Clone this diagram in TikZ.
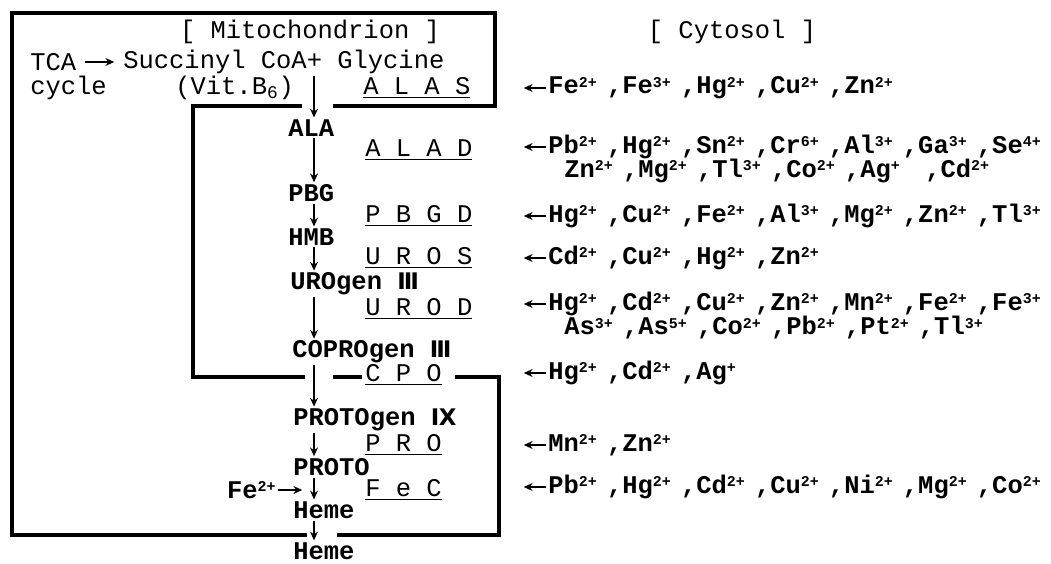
\documentclass[tikz,border=0pt]{standalone}
\usepackage{fontspec}
\setmainfont{Liberation Mono}
\newfontfamily\romfont{DejaVu Sans}
\usetikzlibrary{arrows.meta}

\newcommand{\mt}[2]{#1\raisebox{.5ex}{\fontsize{8.5}{9}\selectfont #2}}
\newcommand{\msep}{\hspace{.4em},}
\newcommand{\rom}[1]{{\romfont\bfseries\fontsize{13}{14}\selectfont #1}}

\begin{document}
\begin{tikzpicture}[x=0.02cm, y=-0.02cm,
  wall/.style={line width=2.2pt},
  flow/.style={-{Stealth[length=5pt,width=4.5pt]}, line width=0.9pt, shorten <=1pt, shorten >=1pt},
  lbl/.style={anchor=west, inner sep=0pt, font=\fontsize{14.5}{16}\selectfont},
  meta/.style={lbl, font=\fontsize{14.5}{16}\selectfont\bfseries},
  enz/.style={lbl},
  inh/.style={lbl, font=\fontsize{14.5}{16}\selectfont\bfseries}]
  \useasboundingbox (0,0) rectangle (1051,564);

  % mitochondrion walls
  \draw[wall] (302,106) -- (193,106) -- (193,377) -- (305,377);
  \draw[wall] (333,106) -- (495,106) -- (495,13) -- (12,13) -- (12,535) -- (307,535);
  \draw[wall] (337,535) -- (499,535) -- (499,377) -- (455,377);
  \draw[wall] (333,377) -- (362,377);

  % headings
  \node[lbl, anchor=center] (mito) at (310,32) {[ Mitochondrion ]};
  \node[lbl, anchor=center] (cyto) at (732,32) {[ Cytosol ]};

  % start of the pathway
  \node[lbl] (tca) at (30,62) {TCA};
  \node[lbl] (cycle) at (30,88) {cycle};
  \node[lbl] (succ) at (123,62) {Succinyl CoA+ Glycine};
  \node[lbl] (vit) at (175,88) {(Vit.B\textsubscript{6})};
  \draw[flow, shorten <=5pt, shorten >=5pt, line width=0.7pt] (tca.east) -- (succ.west);

  % metabolites
  \node[meta] (ala) at (288,128) {ALA};
  \node[meta] (pbg) at (288,193) {PBG};
  \node[meta] (hmb) at (288,237) {HMB};
  \node[meta] (urogen) at (290,284) {UROgen \rom{Ⅲ}};
  \node[meta] (copro) at (292,352) {COPROgen \rom{Ⅲ}};
  \node[meta] (protogen) at (293,420) {PROTOgen \rom{Ⅸ}};
  \node[meta] (proto) at (293,467) {PROTO};
  \node[meta] (heme) at (293,510) {Heme};
  \node[meta] (hemeout) at (293,551) {Heme};
  \node[meta, anchor=east] (fe) at (276,490) {\mt{Fe}{2+}};

  \coordinate (col) at (314,0);
  \coordinate (glyc) at (314,74);
  \coordinate (feend) at (304,0);
  \draw[flow] (glyc) -- (ala.north -| col);
  \draw[flow] (ala.south -| col) -- (pbg.north -| col);
  \draw[flow] (pbg.south -| col) -- (hmb.north -| col);
  \draw[flow] (hmb.south -| col) -- (urogen.north -| col);
  \draw[flow] (urogen.south -| col) -- (copro.north -| col);
  \draw[flow] (copro.south -| col) -- (protogen.north -| col);
  \draw[flow] (protogen.south -| col) -- (proto.north -| col);
  \draw[flow] (proto.south -| col) -- (heme.north -| col);
  \draw[flow] (heme.south -| col) -- (hemeout.north -| col);
  \draw[flow] (fe.east) -- (fe.east -| feend);

  % enzymes
  \node[enz] (alas) at (363,88) {\underline{A L A S}};
  \node[enz] (alad) at (365,150) {\underline{A L A D}};
  \node[enz] (pbgd) at (365,216) {\underline{P B G D}};
  \node[enz] (uros) at (365,258) {\underline{U R O S}};
  \node[enz] (urod) at (365,309) {\underline{U R O D}};
  \node[enz] (cpo) at (365,375) {\underline{C P O}};
  \node[enz] (pro) at (365,445) {\underline{P R O}};
  \node[enz] (fec) at (365,490) {\underline{F e C}};

  % inhibiting metal ions
  \node[inh] (iALAS) at (548,88) {\mt{Fe}{2+}\msep\mt{Fe}{3+}\msep\mt{Hg}{2+}\msep\mt{Cu}{2+}\msep\mt{Zn}{2+}};
  \node[inh] (iALAD) at (548,147) {\mt{Pb}{2+}\msep\mt{Hg}{2+}\msep\mt{Sn}{2+}\msep\mt{Cr}{6+}\msep\mt{Al}{3+}\msep\mt{Ga}{3+}\msep\mt{Se}{4+}};
  \node[inh] (iALADb) at (564,171) {\mt{Zn}{2+}\msep\mt{Mg}{2+}\msep\mt{Tl}{3+}\msep\mt{Co}{2+}\msep\mt{Ag}{+}\hspace{.6em}\msep\mt{Cd}{2+}};
  \node[inh] (iPBGD) at (548,216) {\mt{Hg}{2+}\msep\mt{Cu}{2+}\msep\mt{Fe}{2+}\msep\mt{Al}{3+}\msep\mt{Mg}{2+}\msep\mt{Zn}{2+}\msep\mt{Tl}{3+}};
  \node[inh] (iUROS) at (548,258) {\mt{Cd}{2+}\msep\mt{Cu}{2+}\msep\mt{Hg}{2+}\msep\mt{Zn}{2+}};
  \node[inh] (iUROD) at (548,304) {\mt{Hg}{2+}\msep\mt{Cd}{2+}\msep\mt{Cu}{2+}\msep\mt{Zn}{2+}\msep\mt{Mn}{2+}\msep\mt{Fe}{2+}\msep\mt{Fe}{3+}};
  \node[inh] (iURODb) at (564,328) {\mt{As}{3+}\msep\mt{As}{5+}\msep\mt{Co}{2+}\msep\mt{Pb}{2+}\msep\mt{Pt}{2+}\msep\mt{Tl}{3+}};
  \node[inh] (iCPO) at (548,373) {\mt{Hg}{2+}\msep\mt{Cd}{2+}\msep\mt{Ag}{+}};
  \node[inh] (iPRO) at (548,445) {\mt{Mn}{2+}\msep\mt{Zn}{2+}};
  \node[inh] (iFeC) at (548,487) {\mt{Pb}{2+}\msep\mt{Hg}{2+}\msep\mt{Cd}{2+}\msep\mt{Cu}{2+}\msep\mt{Ni}{2+}\msep\mt{Mg}{2+}\msep\mt{Co}{2+}};

  \coordinate (tip) at (522,0);
  \foreach \i in {iALAS, iALAD, iPBGD, iUROS, iUROD, iCPO, iPRO, iFeC}
    \draw[flow] (\i.west) -- (\i.west -| tip);
\end{tikzpicture}
\end{document}
